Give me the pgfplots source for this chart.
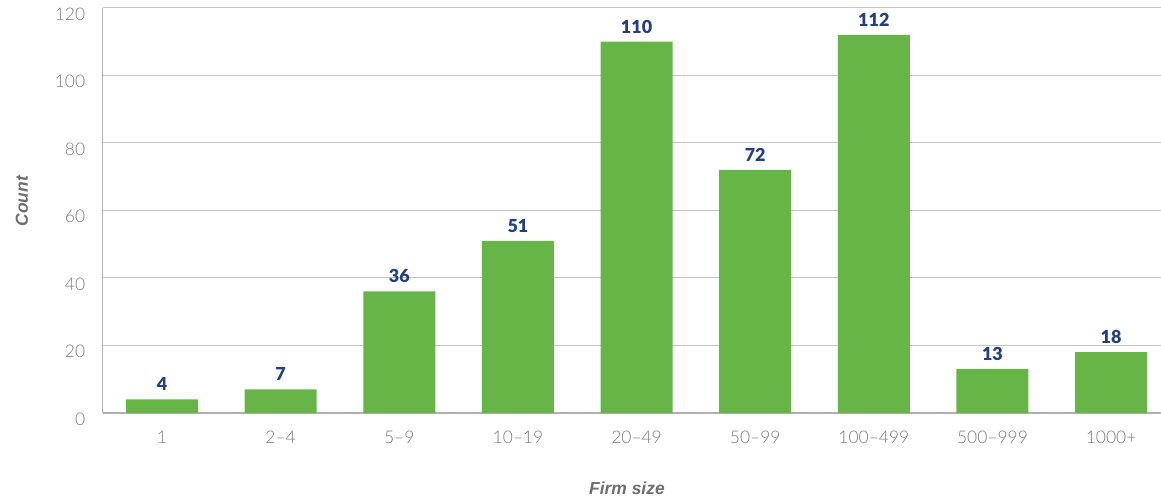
\documentclass[border=0pt]{standalone}
\usepackage{fontspec}
\setmainfont{Lato}
\newfontfamily\lightfont{Lato Light}
\newfontfamily\blackfont{Lato Black}
\newfontfamily\arialfont{Liberation Sans}
\usepackage{pgfplots}
\pgfplotsset{compat=1.18}
\definecolor{barg}{HTML}{66B546}
\definecolor{lblue}{HTML}{233F7F}
\definecolor{gridc}{HTML}{C4C4C4}
\definecolor{axc}{HTML}{B0B0B0}
\definecolor{tickc}{HTML}{7A7A7A}
\definecolor{labc}{HTML}{6E6E6E}
\begin{document}
\begin{tikzpicture}
\path[use as bounding box] (0,0) rectangle (1161bp,500bp);
\begin{axis}[
  at={(102.7bp,87bp)}, anchor=south west, scale only axis,
  width=1058.3bp, height=405bp,
  xmin=-0.5, xmax=8.42, ymin=0, ymax=120,
  ytick={0,20,...,120},
  xtick={0,...,8},
  xticklabels={1,2\textendash4,5\textendash9,10\textendash19,20\textendash49,50\textendash99,100\textendash499,500\textendash999,1000+},
  axis x line=bottom, axis y line=left,
  axis line style={draw=axc, line width=1.2bp, -},
  major tick length=0pt,
  ymajorgrids, grid style={draw=gridc, line width=1bp},
  /pgf/number format/assume math mode=true,
  ticklabel style={font=\lightfont\fontsize{17.5}{20}\selectfont, text=tickc},
  yticklabel style={xshift=-14bp, yshift=-6bp},
  xticklabel style={yshift=-15bp},
  xlabel={Firm size}, ylabel={Count},
  label style={font=\arialfont\bfseries\itshape\fontsize{17.5}{20}\selectfont, text=labc},
  x label style={at={(axis description cs:0.4954,-0.185)}, anchor=center},
  y label style={at={(axis description cs:-0.0763,0.523)}, anchor=center},
  nodes near coords,
  every node near coord/.append style={font=\blackfont\fontsize{18}{21}\selectfont, text=lblue, yshift=5bp},
]
\addplot[ybar, bar width=72bp, fill=barg, draw=none] coordinates {
(0,4) (1,7) (2,36) (3,51) (4,110) (5,72) (6,112) (7,13) (8,18)};
\end{axis}
\end{tikzpicture}
\end{document}
